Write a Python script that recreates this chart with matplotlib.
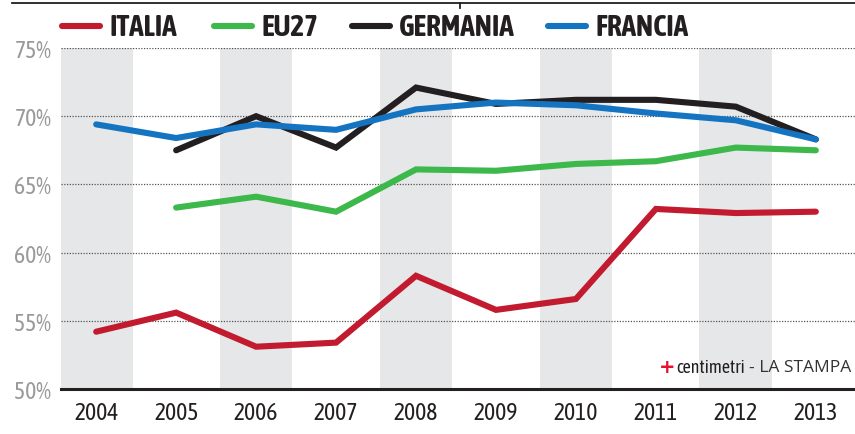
import matplotlib
matplotlib.use("Agg")
import matplotlib.pyplot as plt
from matplotlib.lines import Line2D
import numpy as np

COND = ["Asap Condensed", "DejaVu Sans"]
plt.rcParams['font.family'] = COND

years = [2004, 2005, 2006, 2007, 2008, 2009, 2010, 2011, 2012, 2013]
italia = [54.2, 55.6, 53.1, 53.4, 58.3, 55.8, 56.6, 63.2, 62.9, 63.0]
eu27 = [np.nan, 63.3, 64.1, 63.0, 66.1, 66.0, 66.5, 66.7, 67.7, 67.5]
germania = [np.nan, 67.5, 70.0, 67.7, 72.1, 70.9, 71.2, 71.2, 70.7, 68.3]
francia = [69.4, 68.4, 69.4, 69.0, 70.5, 71.0, 70.8, 70.2, 69.7, 68.3]

series_names = ["ITALIA", "EU27", "GERMANIA", "FRANCIA"]
series_values = [italia, eu27, germania, francia]
colors = ["#c21a2e", "#3db84b", "#231f20", "#1574c1"]
yticks = [50, 55, 60, 65, 70, 75]
ytick_labels = ["50%", "55%", "60%", "65%", "70%", "75%"]
band_years = [2004, 2006, 2008, 2010, 2012]

W, H = 855, 435
fig = plt.figure(figsize=(W / 100, H / 100), dpi=100)
ax = fig.add_axes([61 / W, 1 - 390 / H, 1 - 61 / W, (390 - 49) / H])

ax.set_xlim(2003.56, 2013.49)
ax.set_ylim(50, 75)

for by in band_years:
    ax.axvspan(by - 0.455, by + 0.455, color="#e6e7e9", zorder=0, lw=0)

for yt in yticks[1:]:
    ax.axhline(yt, color="#555555", lw=0.9, ls=(0, (1, 1.2)), zorder=1)

for vals, c in zip(series_values, colors):
    ax.plot(years, vals, color=c, lw=4.4, solid_capstyle="round",
            solid_joinstyle="miter", zorder=3)

for s in ["top", "right", "left"]:
    ax.spines[s].set_visible(False)
ax.spines["bottom"].set_linewidth(2.2)
ax.spines["bottom"].set_color("#231f20")

ax.set_yticks(yticks)
ax.set_yticklabels(ytick_labels, fontsize=17, color="#9a9a9a")
ax.set_xticks(years)
ax.set_xticklabels([str(y) for y in years], fontsize=17, color="#231f20")
ax.tick_params(axis="both", length=0)
ax.tick_params(axis="y", pad=7)
ax.tick_params(axis="x", pad=9)

# legend drawn manually in figure coordinates
leg_x = [62, 214, 352, 548]
ly = 1 - 27 / H
for name, c, lx in zip(series_names, colors, leg_x):
    fig.add_artist(Line2D([lx / W, (lx + 38) / W], [ly, ly], color=c, lw=4.4,
                          solid_capstyle="round", transform=fig.transFigure))
    fig.text((lx + 47) / W, ly - 1 / H, name, fontsize=21, fontweight="bold",
             color="#231f20", va="center", ha="left")

# top rule with small tick (clipped title)
fig.add_artist(Line2D([12 / W, 1], [1 - 4 / H, 1 - 4 / H], color="#231f20",
                      lw=1.3, transform=fig.transFigure))
fig.add_artist(Line2D([460 / W, 460 / W], [1 - 4 / H, 1 - 9 / H], color="#231f20",
                      lw=1.3, transform=fig.transFigure))

# watermark: right-aligned pieces placed one after another
renderer = fig.canvas.get_renderer()
wy = 1 - 368 / H
t1 = fig.text(851 / W, wy, "- LA STAMPA", fontsize=12.5, color="#333333",
              ha="right", va="center", family=["Open Sans", "DejaVu Sans"])
x1 = t1.get_window_extent(renderer).x0
t2 = fig.text((x1 - 4) / W, wy, "centimetri", fontsize=13, color="#231f20",
              ha="right", va="center", family=["Asap Condensed", "DejaVu Sans"])
x2 = t2.get_window_extent(renderer).x0
fig.text((x2 - 1) / W, wy, "+", fontsize=14, color="#e3122d",
         ha="right", va="center", fontweight="bold", family=["DejaVu Sans"])

fig.savefig("out.png", dpi=100)
